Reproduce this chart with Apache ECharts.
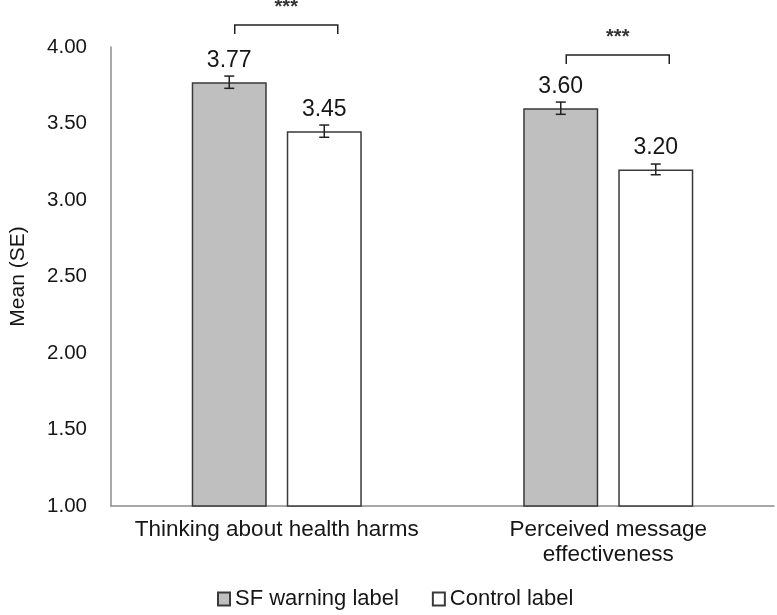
<!DOCTYPE html>
<html>
<head>
<meta charset="utf-8">
<script src="https://cdn.jsdelivr.net/npm/echarts@6/dist/echarts.min.js"></script>
<style>html,body{margin:0;padding:0;background:#fff}#c{width:777px;height:615px}</style>
</head>
<body>
<div id="c"></div>
<script>
var categories = ['Thinking about health harms', 'Perceived message\neffectiveness'];
var seriesNames = ['SF warning label', 'Control label'];
var sfValues = [3.77, 3.60];
var controlValues = [3.45, 3.20];
var sfSE = [0.04, 0.04];
var controlSE = [0.04, 0.035];
var bracketLevels = [4.144, 3.948];
var sigLabels = ['***', '***'];

var FONT = '"Liberation Sans", Arial, sans-serif';
var TXT = '#161616';
var BAR_OFFSET = 47.5;

var errData = [];
for (var i = 0; i < categories.length; i++) {
  errData.push([i, sfValues[i], sfSE[i], -1]);
  errData.push([i, controlValues[i], controlSE[i], 1]);
}
var bracketData = bracketLevels.map(function (v, i) { return [i, v, sigLabels[i]]; });

var chart = echarts.init(document.getElementById('c'));
chart.setOption({
  animation: false,
  textStyle: { fontFamily: FONT, color: TXT },
  grid: { left: 105, right: 3, top: 47, bottom: 109, containLabel: false },
  legend: {
    data: seriesNames,
    left: 212, top: 583,
    icon: 'rect',
    itemWidth: 12, itemHeight: 13, itemGap: 33,
    textStyle: { fontFamily: FONT, fontSize: 22, color: TXT }
  },
  xAxis: {
    type: 'category', data: categories,
    axisLine: { lineStyle: { color: '#8c8c8c', width: 1.5 } },
    axisTick: { show: false },
    axisLabel: { fontFamily: FONT, fontSize: 22.5, color: TXT, margin: 11, lineHeight: 25, interval: 0 }
  },
  yAxis: {
    type: 'value', min: 1, max: 4, interval: 0.5,
    name: 'Mean (SE)', nameLocation: 'middle', nameRotate: 90, nameGap: 82,
    nameTextStyle: { fontFamily: FONT, fontSize: 21, color: TXT },
    axisLine: { show: true, lineStyle: { color: '#8c8c8c', width: 1.5 } },
    axisTick: { show: false },
    splitLine: { show: false },
    axisLabel: { fontFamily: FONT, fontSize: 20.5, color: TXT, margin: 24,
      formatter: function (v) { return v.toFixed(2); } }
  },
  series: [
    {
      name: seriesNames[0], type: 'bar', data: sfValues, barWidth: 75, barGap: '26.7%',
      itemStyle: { color: '#bfbfbf', borderColor: '#3a3a3a', borderWidth: 1.5 },
      label: { show: true, position: 'top', distance: 10, fontFamily: FONT, fontSize: 23, color: TXT,
        formatter: function (p) { return p.value.toFixed(2); } }
    },
    {
      name: seriesNames[1], type: 'bar', data: controlValues, barWidth: 75,
      itemStyle: { color: '#ffffff', borderColor: '#3a3a3a', borderWidth: 1.5 },
      label: { show: true, position: 'top', distance: 10, fontFamily: FONT, fontSize: 23, color: TXT,
        formatter: function (p) { return p.value.toFixed(2); } }
    },
    {
      name: 'err', type: 'custom', data: errData, z: 5,
      renderItem: function (params, api) {
        var cat = api.value(0), v = api.value(1), se = api.value(2), side = api.value(3);
        var hi = api.coord([cat, v + se]);
        var lo = api.coord([cat, v - se]);
        var x = hi[0] + side * BAR_OFFSET;
        var st = { stroke: '#222', lineWidth: 1.5 };
        return { type: 'group', children: [
          { type: 'line', shape: { x1: x, y1: hi[1], x2: x, y2: lo[1] }, style: st },
          { type: 'line', shape: { x1: x - 5, y1: hi[1], x2: x + 5, y2: hi[1] }, style: st },
          { type: 'line', shape: { x1: x - 5, y1: lo[1], x2: x + 5, y2: lo[1] }, style: st }
        ] };
      }
    },
    {
      name: 'sig', type: 'custom', data: bracketData, z: 5, clip: false,
      renderItem: function (params, api) {
        var p = api.coord([api.value(0), api.value(1)]);
        var x1 = p[0] - 42, x2 = p[0] + 61, y = p[1];
        return { type: 'group', children: [
          { type: 'polyline', shape: { points: [[x1, y + 9], [x1, y], [x2, y], [x2, y + 9]] },
            style: { stroke: '#222', lineWidth: 1.5, fill: null } },
          { type: 'text', style: { text: bracketData[params.dataIndex][2], x: (x1 + x2) / 2, y: y - 7,
            textAlign: 'center', textVerticalAlign: 'bottom', font: 'bold 20px ' + FONT, fill: '#333' } }
        ] };
      }
    }
  ]
});
</script>
</body>
</html>
